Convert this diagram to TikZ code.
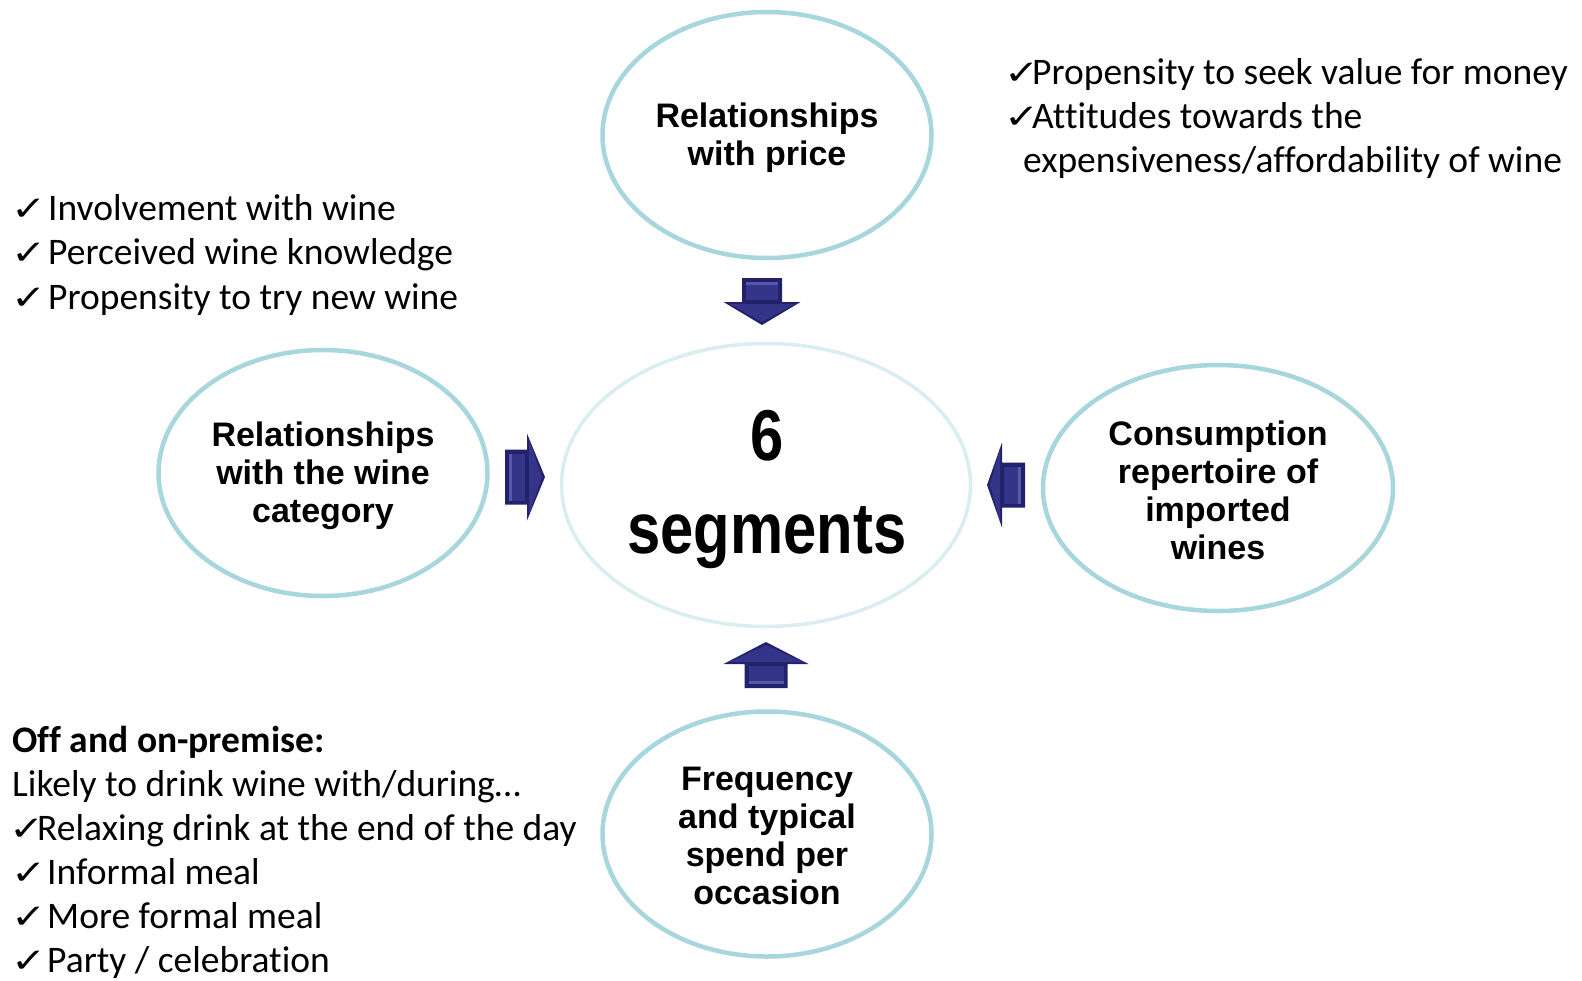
\documentclass[tikz,border=0pt]{standalone}
\usepackage{fontspec}
\usepackage{graphicx}
\setmainfont{Carlito}[Ligatures=NoCommon]
\newfontfamily\bubblefont{Liberation Sans}
\newfontfamily\checkfont{DejaVu Sans}
\usetikzlibrary{shapes.geometric}

\definecolor{ring}{RGB}{168,214,221}
\definecolor{ringpale}{RGB}{218,237,240}
\definecolor{navy}{RGB}{34,34,108}
\definecolor{navyface}{RGB}{52,52,136}
\definecolor{navylight}{RGB}{88,88,170}

% tick mark set in a box of given width, so the following text starts at a fixed place
\newcommand\tickbox[1]{\makebox[#1][l]{\checkfont\fontsize{40}{40}\selectfont\scalebox{1.05}[0.85]{✓}}}

\tikzset{
  bubble/.style={ellipse, draw=ring, line width=4.5pt, inner sep=0pt},
  bubbletext/.style={inner sep=0pt, align=center,
    font=\bubblefont\bfseries\fontsize{34}{38}\selectfont},
  listtext/.style={anchor=base west, inner sep=0pt, font=\fontsize{37.5}{44}\selectfont},
  bigtext/.style={anchor=base, inner sep=0pt, font=\bubblefont\bfseries\fontsize{72}{72}\selectfont},
}

% block arrow: name, tip x, tip y, angle, head length, head half width, shaft length, shaft half width
\newcommand\blockarr[8]{%
  \begin{scope}[shift={(#2,#3)}, rotate=#4]
    \coordinate (#1) at (0,0);
    \fill[navy] (0,0) -- (-#5,#6) -- (-#5,#8) -- ({-#5-#7},#8) -- ({-#5-#7},-#8)
      -- (-#5,-#8) -- (-#5,-#6) -- cycle;
    \fill[navyface] (-#5-2,{#8-4}) -- ({-#5-#7+4},{#8-4}) -- ({-#5-#7+4},{-#8+4}) -- (-#5-2,{-#8+4}) -- cycle;
    \fill[navylight] ({-#5-#7+4},{#8-4}) -- ({-#5-#7+7},{#8-4}) -- ({-#5-#7+7},{-#8+4}) -- ({-#5-#7+4},{-#8+4}) -- cycle;
    \fill[navyface] (-3,0) -- (-#5+2,{#6-6}) -- (-#5+2,{-#6+6}) -- cycle;
  \end{scope}}

\begin{document}
\begin{tikzpicture}[x=1pt,y=-1pt]
\useasboundingbox[fill=white] (0,0) rectangle (1582,980);

% central ellipse
\node[bubble, draw=ringpale, line width=3.5pt, minimum width=409pt, minimum height=283pt] (core) at (766,485) {};
\node[bigtext] (six) at (767,460) {\scalebox{0.83}[1]{6}};
\node[bigtext] (seg) at (767,553) {\scalebox{0.83}[1]{segments}};

% surrounding ellipses and their titles
\node[bubble, minimum width=329pt, minimum height=246pt] (price) at (767,135) {};
\node[bubbletext] (price-t) at (767,138) {Relationships\\with price};
\node[bubble, minimum width=329pt, minimum height=246pt] (category) at (323,473) {};
\node[bubbletext] (category-t) at (323,476) {Relationships\\with the wine\\category};
\node[bubble, minimum width=350pt, minimum height=246pt] (imports) at (1218,488) {};
\node[bubbletext] (imports-t) at (1218,490) {Consumption\\repertoire of\\imported\\wines};
\node[bubble, minimum width=329pt, minimum height=245pt] (occasion) at (767,834) {};
\node[bubbletext] (occasion-t) at (767,836) {Frequency\\and typical\\spend per\\occasion};

% block arrows towards the centre
\blockarr{adown}{762}{325}{-90}{23}{38.5}{24}{20}
\blockarr{aup}{766}{642}{90}{22}{42.5}{24}{21.5}
\blockarr{aright}{545}{477}{0}{18}{43.5}{22}{27.5}
\blockarr{aleft}{987}{485}{180}{15}{42.5}{23}{22.5}

% list beside the category ellipse
\node[listtext] (l1) at (11,220) {\tickbox{37pt}Involvement with wine};
\node[listtext] (l2) at (11,264.5) {\tickbox{37pt}Perceived wine knowledge};
\node[listtext] (l3) at (11,309) {\tickbox{37pt}Propensity to try new wine};

% list beside the price ellipse
\node[listtext] (p1) at (1004,84) {\tickbox{28pt}Propensity to seek value for money};
\node[listtext] (p2) at (1004,128) {\tickbox{28pt}Attitudes towards the};
\node[listtext] (p3) at (1023,172) {expensiveness/affordability of wine};

% occasions list
\node[listtext, font=\bfseries\fontsize{37.5}{44}\selectfont] (o0) at (12,752) {Off and on-premise:};
\node[listtext] (o1) at (12,796) {Likely to drink wine with/during…};
\node[listtext] (o2) at (9,840) {\tickbox{28pt}Relaxing drink at the end of the day};
\node[listtext] (o3) at (11,884) {\tickbox{36pt}Informal meal};
\node[listtext] (o4) at (11,928) {\tickbox{36pt}More formal meal};
\node[listtext] (o5) at (11,972) {\tickbox{36pt}Party / celebration};
\end{tikzpicture}
\end{document}
